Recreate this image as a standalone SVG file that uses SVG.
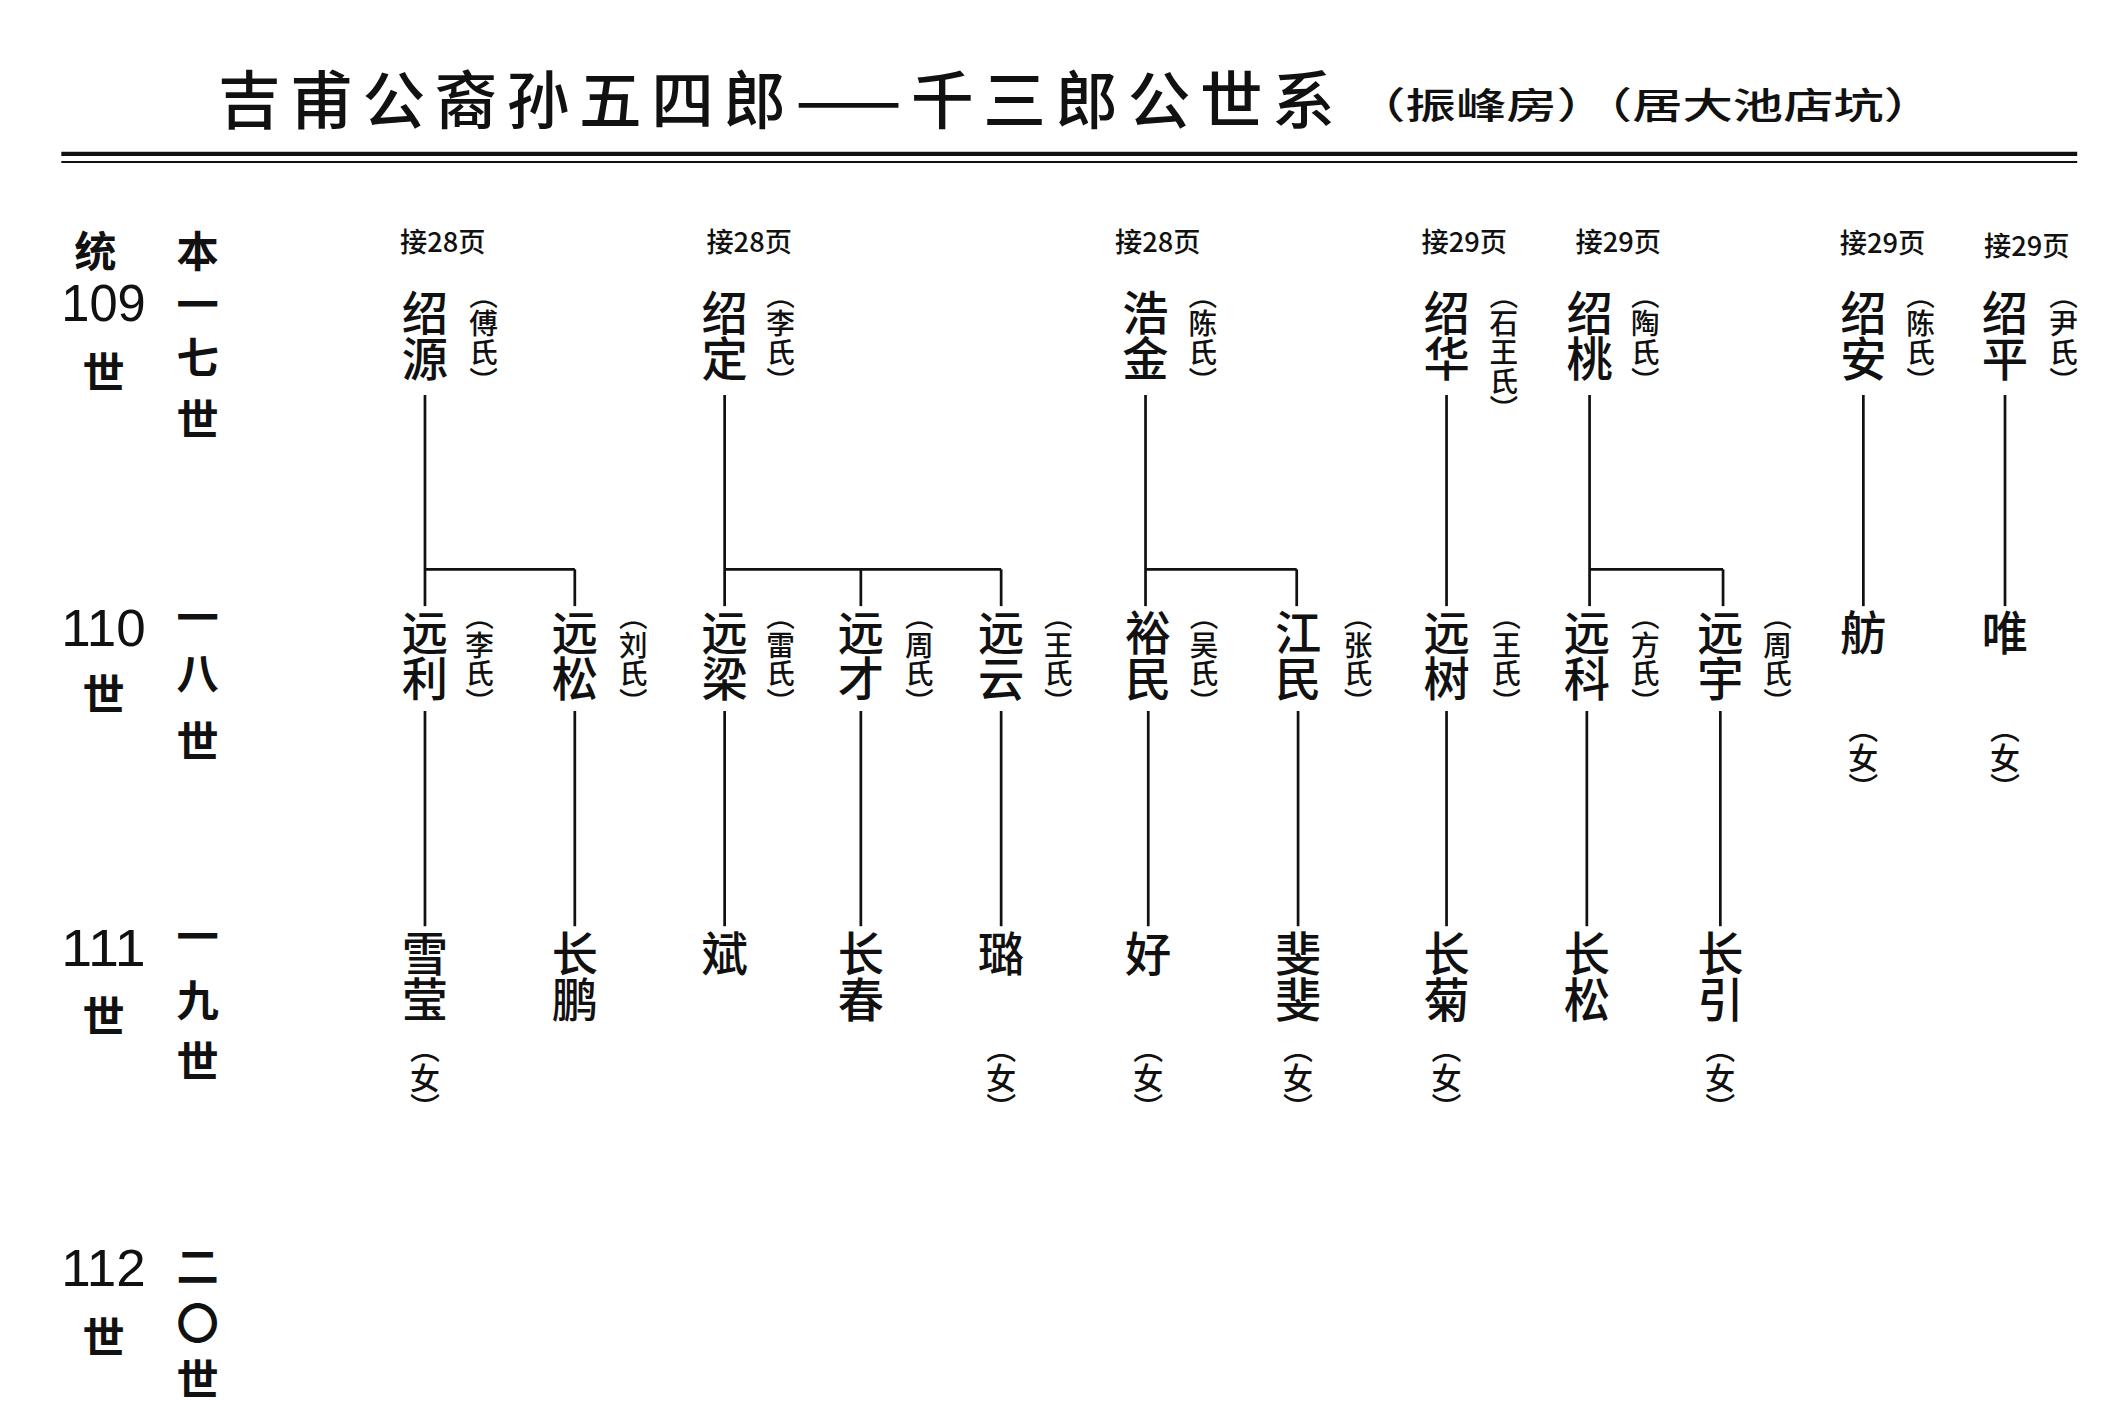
<svg xmlns="http://www.w3.org/2000/svg" width="2114" height="1409" viewBox="0 0 2114 1409">
<style>
.t{font-family:"Noto Sans CJK SC","Noto Sans",sans-serif;fill:#111;font-weight:500}
.n{font-size:34px;writing-mode:vertical-rl}
.s{font-size:21px;writing-mode:vertical-rl}
.f{font-size:22px;writing-mode:vertical-rl}
.p{font-size:20px;text-anchor:middle}
.g{font-size:31px;text-anchor:middle;font-weight:700}
.num{font-family:"Liberation Sans",sans-serif;font-size:38px;text-anchor:middle;fill:#111}
.c line{stroke:#111;stroke-width:2}
</style>
<rect width="2114" height="1409" fill="#fff"/>
<g transform="scale(1.3621)">
<g id="title">
<text class="t" x="160" y="90" font-size="46" font-weight="700" textLength="820">吉甫公裔孙五四郎——千三郎公世系</text>
<text class="t" x="995" y="87" font-size="27" textLength="425" lengthAdjust="spacingAndGlyphs">（振峰房）（居大池店坑）</text>
<line x1="45" y1="113" x2="1525" y2="113" stroke="#111" stroke-width="3"/>
<line x1="45" y1="119" x2="1525" y2="119" stroke="#111" stroke-width="1.5"/>
</g>
<g id="gen-labels">
<text class="t g" x="70" y="196">统</text><text class="num" x="76" y="236" textLength="62" lengthAdjust="spacingAndGlyphs">109</text><text class="t g" x="76" y="285">世</text>
<text class="t g" x="145" y="196">本</text><text class="t g" x="145" y="235">一</text><text class="t g" x="145" y="274">七</text><text class="t g" x="145" y="319">世</text>
<text class="num" x="76" y="474" textLength="62" lengthAdjust="spacingAndGlyphs">110</text><text class="t g" x="76" y="521">世</text>
<text class="t g" x="145" y="465">一</text><text class="t g" x="145" y="506">八</text><text class="t g" x="145" y="556">世</text>
<text class="num" x="76" y="709" textLength="62" lengthAdjust="spacingAndGlyphs">111</text><text class="t g" x="76" y="758">世</text>
<text class="t g" x="145" y="699">一</text><text class="t g" x="145" y="746">九</text><text class="t g" x="145" y="791">世</text>
<text class="num" x="76" y="944" textLength="62" lengthAdjust="spacingAndGlyphs">112</text><text class="t g" x="76" y="993">世</text>
<text class="t g" x="145" y="941">二</text><text class="t g" x="145" y="983">〇</text><text class="t g" x="145" y="1024">世</text>
</g>
<g id="connectors" class="c">
<line x1="312" y1="290" x2="312" y2="445"/><line x1="312" y1="418" x2="422" y2="418"/><line x1="422" y1="418" x2="422" y2="445"/>
<line x1="532" y1="290" x2="532" y2="445"/><line x1="532" y1="418" x2="735" y2="418"/><line x1="632" y1="418" x2="632" y2="445"/><line x1="735" y1="418" x2="735" y2="445"/>
<line x1="841" y1="290" x2="841" y2="445"/><line x1="841" y1="418" x2="952" y2="418"/><line x1="952" y1="418" x2="952" y2="445"/>
<line x1="1062" y1="290" x2="1062" y2="445"/>
<line x1="1167" y1="290" x2="1167" y2="445"/><line x1="1167" y1="418" x2="1265" y2="418"/><line x1="1265" y1="418" x2="1265" y2="445"/>
<line x1="1368" y1="290" x2="1368" y2="445"/>
<line x1="1472" y1="290" x2="1472" y2="445"/>
<line x1="312" y1="522" x2="312" y2="680"/><line x1="422" y1="522" x2="422" y2="680"/><line x1="532" y1="522" x2="532" y2="680"/><line x1="632" y1="522" x2="632" y2="680"/><line x1="735" y1="522" x2="735" y2="680"/>
<line x1="843" y1="522" x2="843" y2="680"/><line x1="953" y1="522" x2="953" y2="680"/><line x1="1062" y1="522" x2="1062" y2="680"/><line x1="1165" y1="522" x2="1165" y2="680"/><line x1="1263" y1="522" x2="1263" y2="680"/>
</g>
<g id="refs">
<text class="t p" x="325" y="185">接28页</text><text class="t p" x="550" y="185">接28页</text><text class="t p" x="850" y="185">接28页</text><text class="t p" x="1075" y="185">接29页</text><text class="t p" x="1188" y="185">接29页</text><text class="t p" x="1382" y="186">接29页</text><text class="t p" x="1488" y="188">接29页</text>
</g>
<g id="n109-1"><text class="t n" x="312" y="212">绍源</text><text class="t s" x="355" y="206">（傅氏）</text></g>
<g id="n109-2"><text class="t n" x="532" y="212">绍定</text><text class="t s" x="573" y="206">（李氏）</text></g>
<g id="n109-3"><text class="t n" x="841" y="212">浩金</text><text class="t s" x="883" y="206">（陈氏）</text></g>
<g id="n109-4"><text class="t n" x="1062" y="212">绍华</text><text class="t s" x="1104" y="206">（石王氏）</text></g>
<g id="n109-5"><text class="t n" x="1167" y="212">绍桃</text><text class="t s" x="1208" y="206">（陶氏）</text></g>
<g id="n109-6"><text class="t n" x="1368" y="212">绍安</text><text class="t s" x="1410" y="206">（陈氏）</text></g>
<g id="n109-7"><text class="t n" x="1472" y="212">绍平</text><text class="t s" x="1515" y="206">（尹氏）</text></g>
<g id="n110-1"><text class="t n" x="312" y="447">远利</text><text class="t s" x="352" y="442">（李氏）</text></g>
<g id="n110-2"><text class="t n" x="422" y="447">远松</text><text class="t s" x="465" y="442">（刘氏）</text></g>
<g id="n110-3"><text class="t n" x="532" y="447">远梁</text><text class="t s" x="573" y="442">（雷氏）</text></g>
<g id="n110-4"><text class="t n" x="632" y="447">远才</text><text class="t s" x="675" y="442">（周氏）</text></g>
<g id="n110-5"><text class="t n" x="735" y="447">远云</text><text class="t s" x="777" y="442">（王氏）</text></g>
<g id="n110-6"><text class="t n" x="843" y="447">裕民</text><text class="t s" x="884" y="442">（吴氏）</text></g>
<g id="n110-7"><text class="t n" x="953" y="447">江民</text><text class="t s" x="997" y="442">（张氏）</text></g>
<g id="n110-8"><text class="t n" x="1062" y="447">远树</text><text class="t s" x="1106" y="442">（王氏）</text></g>
<g id="n110-9"><text class="t n" x="1165" y="447">远科</text><text class="t s" x="1208" y="442">（方氏）</text></g>
<g id="n110-10"><text class="t n" x="1263" y="447">远宇</text><text class="t s" x="1305" y="442">（周氏）</text></g>
<g id="n110-11"><text class="t n" x="1368" y="447">舫</text><text class="t f" x="1368" y="523">（女）</text></g>
<g id="n110-12"><text class="t n" x="1472" y="447">唯</text><text class="t f" x="1472" y="523">（女）</text></g>
<g id="n111-1"><text class="t n" x="312" y="683">雪莹</text><text class="t f" x="312" y="758">（女）</text></g>
<g id="n111-2"><text class="t n" x="422" y="683">长鹏</text></g>
<g id="n111-3"><text class="t n" x="532" y="683">斌</text></g>
<g id="n111-4"><text class="t n" x="632" y="683">长春</text></g>
<g id="n111-5"><text class="t n" x="735" y="683">璐</text><text class="t f" x="735" y="758">（女）</text></g>
<g id="n111-6"><text class="t n" x="843" y="683">好</text><text class="t f" x="843" y="758">（女）</text></g>
<g id="n111-7"><text class="t n" x="953" y="683">斐斐</text><text class="t f" x="953" y="758">（女）</text></g>
<g id="n111-8"><text class="t n" x="1062" y="683">长菊</text><text class="t f" x="1062" y="758">（女）</text></g>
<g id="n111-9"><text class="t n" x="1165" y="683">长松</text></g>
<g id="n111-10"><text class="t n" x="1263" y="683">长引</text><text class="t f" x="1263" y="758">（女）</text></g>
</g>
</svg>
